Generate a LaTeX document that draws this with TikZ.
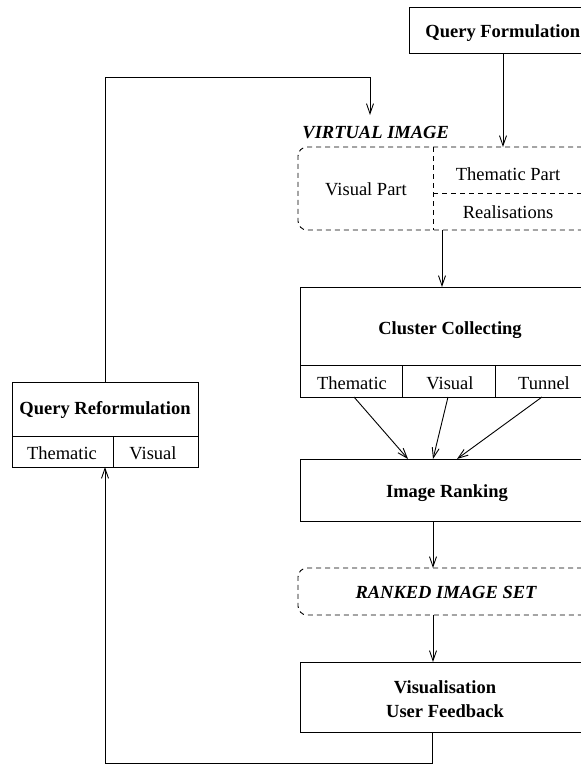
\documentclass[tikz,border=0pt]{standalone}
\usepackage{fontspec}
\setmainfont{Liberation Serif}
\usetikzlibrary{arrows.meta}
\begin{document}
\begin{tikzpicture}[x=1pt,y=-1pt,
  line width=0.9pt,
  box/.style={draw, anchor=north west, inner sep=0pt, outer sep=0pt},
  dbox/.style={draw, dash pattern=on 5pt off 4pt, rounded corners=9pt, anchor=north west, inner sep=0pt, outer sep=0pt},
  dline/.style={dash pattern=on 5pt off 4pt},
  txt/.style={inner sep=0pt, anchor=base, font=\fontsize{18.5}{22}\selectfont},
  btxt/.style={txt, font=\fontsize{18.5}{22}\selectfont\bfseries},
  itxt/.style={txt, font=\fontsize{18.5}{22}\selectfont\bfseries\itshape},
  arr/.style={-{Straight Barb[length=10pt,width=7pt]}}
]
\useasboundingbox (0,0) rectangle (581,764);
\clip (0,0) rectangle (581,764);

% Query Formulation
\node[box, minimum width=181pt, minimum height=46pt] (qf) at (409,7) {};
\node[btxt, anchor=base west] (qft) at (425,37) {Query Formulation};

% Virtual image
\node[itxt, anchor=base west] (vit) at (302,138) {VIRTUAL IMAGE};
\node[dbox, minimum width=302pt, minimum height=83pt] (vi) at (298,147) {};
\draw[dline] (vi.north -| 433,0) -- (vi.south -| 433,0);
\draw[dline] (433,193) -- (vi.east |- 0,193);
\node[txt] (vp) at (366,195) {Visual Part};
\node[txt] (tp) at (508,180) {Thematic Part};
\node[txt] (re) at (508,218) {Realisations};

% Cluster collecting
\node[box, minimum width=300pt, minimum height=110pt] (cc) at (300,287) {};
\draw (cc.west |- 0,365) -- (cc.east |- 0,365);
\draw (402,365) -- (cc.south -| 402,0);
\draw (495,365) -- (cc.south -| 495,0);
\node[btxt] (cct) at (450,334) {Cluster Collecting};
\node[txt] (cth) at (352,389) {Thematic};
\node[txt] (cvi) at (450,389) {Visual};
\node[txt] (ctu) at (544,389) {Tunnel};

% Image ranking
\node[box, minimum width=300pt, minimum height=62pt] (ir) at (300,459) {};
\node[btxt] (irt) at (447,497) {Image Ranking};

% Ranked image set
\node[dbox, minimum width=302pt, minimum height=47pt] (ris) at (298,568) {};
\node[itxt] (rist) at (446,598) {RANKED IMAGE SET};

% Visualisation
\node[box, minimum width=300pt, minimum height=70pt] (vis) at (300,662) {};
\node[btxt] (vis1) at (445,693) {Visualisation};
\node[btxt] (vis2) at (445,717) {User Feedback};

% Query reformulation
\node[box, minimum width=186pt, minimum height=85pt] (qr) at (12,382) {};
\draw (qr.west |- 0,436) -- (qr.east |- 0,436);
\draw (113,436) -- (qr.south -| 113,0);
\node[btxt] (qrt) at (105,414) {Query Reformulation};
\node[txt] (qrth) at (62,459) {Thematic};
\node[txt] (qrvi) at (153,459) {Visual};

% connectors
\coordinate (qfx) at (503,147);
\draw[arr] (qf.south -| qfx) -- (qfx);
\coordinate (loopr) at (370,77);
\coordinate (vitip) at (370,115);
\draw[arr] (qr.north) |- (loopr) -- (vitip);
\coordinate (vix) at (442,0);
\draw[arr] (vi.south -| vix) -- (cc.north -| vix);
\coordinate (a1s) at (354,397); \coordinate (a1e) at (408,459);
\coordinate (a2s) at (448,397); \coordinate (a2e) at (433,459);
\coordinate (a3s) at (542,397); \coordinate (a3e) at (457,459);
\draw[arr] (a1s) -- (a1e);
\draw[arr] (a2s) -- (a2e);
\draw[arr] (a3s) -- (a3e);
\coordinate (cx) at (433,0);
\draw[arr] (ir.south -| cx) -- (ris.north -| cx);
\draw[arr] (ris.south -| cx) -- (vis.north -| cx);
\coordinate (fb) at (432,763);
\draw[arr] (vis.south -| fb) -- (fb) -| (qr.south);
\end{tikzpicture}
\end{document}
